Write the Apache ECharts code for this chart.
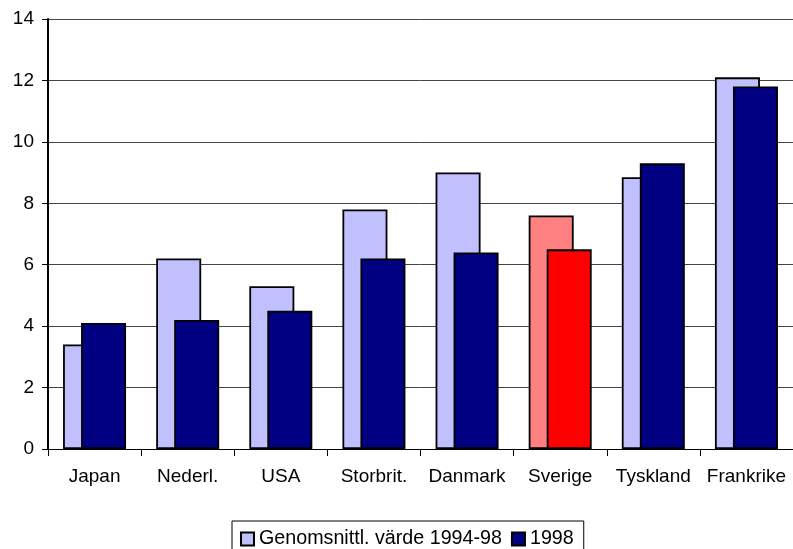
<!DOCTYPE html>
<html>
<head>
<meta charset="utf-8">
<script src="https://cdn.jsdelivr.net/npm/echarts@6/dist/echarts.min.js"></script>
<style>
  html, body { margin: 0; padding: 0; background: #fff; }
  #chart { width: 793px; height: 549px; }
</style>
</head>
<body>
<div id="chart"></div>
<script>
// Countries along the x axis
const categories = ['Japan', 'Nederl.', 'USA', 'Storbrit.', 'Danmark', 'Sverige', 'Tyskland', 'Frankrike'];
// Average 1994-98 and the 1998 value per country
const avgValues = [3.4, 6.2, 5.3, 7.8, 9.0, 7.6, 8.85, 12.1];
const values1998 = [4.1, 4.2, 4.5, 6.2, 6.4, 6.5, 9.3, 11.8];
const yTicks = [0, 2, 4, 6, 8, 10, 12, 14];
const seriesNames = ['Genomsnittl. värde 1994-98', '1998'];

// Sweden is highlighted in red tones
const highlight = 'Sverige';
const FONT = 'Liberation Sans, Arial, sans-serif';
const FS = 19;

function withHighlight(vals, color) {
  return vals.map((v, i) => categories[i] === highlight
    ? { value: v, itemStyle: { color: color } }
    : v);
}

const chart = echarts.init(document.getElementById('chart'), null, { renderer: 'canvas' });
chart.setOption({
  animation: false,
  backgroundColor: '#ffffff',
  textStyle: { fontFamily: FONT },
  grid: { left: 48, top: 19, width: 747, bottom: 100, containLabel: false },
  legend: {
    left: 232,
    top: 521,
    orient: 'horizontal',
    itemWidth: 13,
    itemHeight: 13,
    itemGap: 9,
    padding: [8, 10, 20, 8],
    borderColor: '#000',
    borderWidth: 1,
    icon: 'rect',
    textStyle: { fontFamily: FONT, fontSize: 19.7, color: '#000' },
    data: seriesNames
  },
  xAxis: {
    type: 'category',
    data: categories,
    axisLine: { show: true, lineStyle: { color: '#000', width: 1 } },
    axisTick: { show: true, length: 7, alignWithLabel: false, lineStyle: { color: '#000' } },
    axisLabel: { fontFamily: FONT, fontSize: FS, color: '#000', margin: 18, interval: 0 },
    splitLine: { show: false }
  },
  yAxis: {
    type: 'value',
    min: yTicks[0],
    max: yTicks[yTicks.length - 1],
    interval: 2,
    axisLine: { show: true, lineStyle: { color: '#000', width: 2 } },
    axisTick: { show: true, length: 6, inside: false, lineStyle: { color: '#000' } },
    axisLabel: { fontFamily: FONT, fontSize: FS, color: '#000', margin: 14 },
    splitLine: { show: true, lineStyle: { color: '#444', width: 1 } }
  },
  series: [
    {
      name: seriesNames[0],
      type: 'bar',
      data: withHighlight(avgValues, '#FF8080'),
      barWidth: 45,
      barGap: '-60%',
      itemStyle: { color: '#C0C0FF', borderColor: '#000', borderWidth: 1.8 }
    },
    {
      name: seriesNames[1],
      type: 'bar',
      data: withHighlight(values1998, '#FF0000'),
      barWidth: 45,
      barGap: '-60%',
      itemStyle: { color: '#000080', borderColor: '#000', borderWidth: 1.8 }
    }
  ]
});
</script>
</body>
</html>
